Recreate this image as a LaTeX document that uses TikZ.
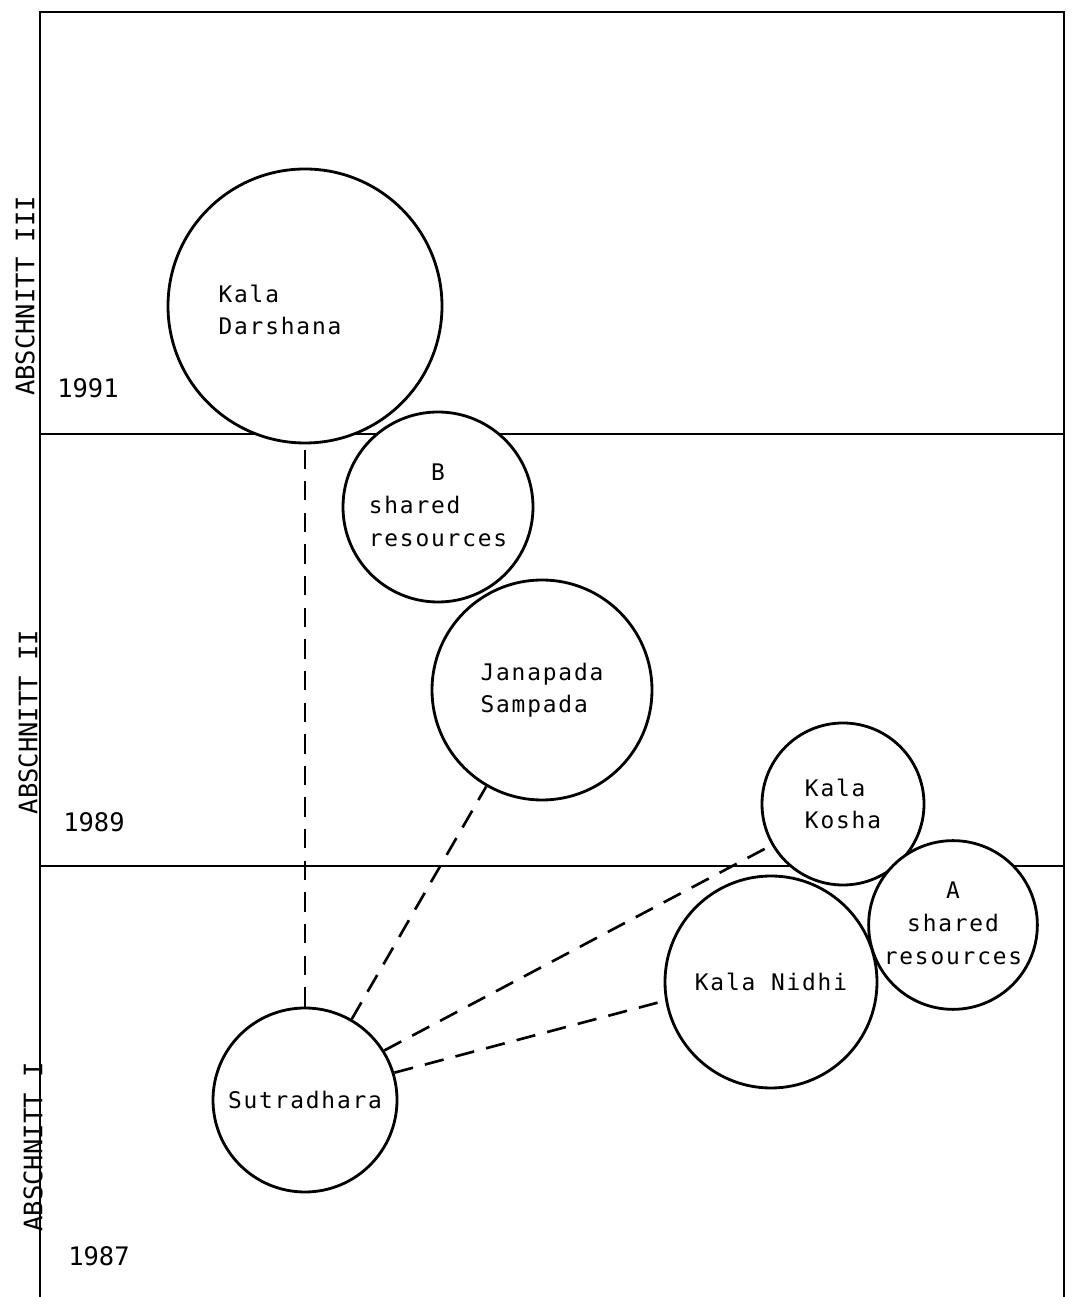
\documentclass[tikz,border=0pt]{standalone}
\usepackage{fontspec}
\newfontfamily\typefont[LetterSpace=8]{DejaVu Sans Mono}
\newfontfamily\sidefont{DejaVu Sans Mono}
\usetikzlibrary{calc}

\begin{document}
\begin{tikzpicture}[
    line width=1.4pt,
    ring/.style={draw, circle, fill=white, inner sep=0pt, line width=1.6pt,
        font=\typefont\fontsize{13}{18.5}\selectfont}, % Circles for the projects
    txt/.style={inner sep=0pt, font=\typefont\fontsize{13}{18.5}\selectfont},
    side/.style={rotate=90, inner sep=0pt, font=\sidefont\fontsize{14.5}{17}\selectfont},
    year/.style={inner sep=0pt, font=\sidefont\fontsize{14.5}{17}\selectfont},
    link/.style={dash pattern=on 11pt off 7pt, line width=1.5pt} % Dashed connectors
]
\useasboundingbox (0,0) rectangle (21.44,25.94);

% Frame and section borders
\draw (0.80,0) -- (0.80,25.70) -- (21.28,25.70) -- (21.28,0);
\draw (0.80,17.26) -- (21.28,17.26);
\draw (0.80,8.62) -- (21.28,8.62);

% Section labels
\node[side] (sec3) at (0.50,20.02) {ABSCHNITT III};
\node[side] (sec2) at (0.56,11.50) {ABSCHNITT II};
\node[side] (sec1) at (0.66,3.00) {ABSCHNITT I};
\node[year] (y91) at (1.76,18.18) {1991};
\node[year] (y89) at (1.88,9.50) {1989};
\node[year] (y87) at (1.98,0.82) {1987};

% Circles
\node[ring, minimum size=5.48cm] (darshana) at (6.10,19.82) {};
\node[txt, align=left] (darshanatext) at ($(darshana)+(-0.50,-0.08)$) {Kala\\Darshana};
\node[ring, minimum size=3.80cm] (sharedB) at (8.76,15.80) {%
    \begin{tabular}{@{}l@{}}\multicolumn{1}{@{}c@{}}{B}\\shared\\resources\end{tabular}};
\node[ring, minimum size=4.40cm, align=left] (janapada) at (10.84,12.14) {Janapada\\Sampada};
\node[ring, minimum size=3.24cm, align=left] (kosha) at (16.86,9.86) {Kala\\Kosha};
\node[ring, minimum size=3.20cm] (sharedA) at (19.06,7.44) {%
    \begin{tabular}{@{}c@{}}A\\shared\\resources\end{tabular}};
\node[ring, minimum size=4.24cm] (nidhi) at (15.42,6.30) {Kala Nidhi};
\node[ring, minimum size=3.68cm] (sutradhara) at (6.10,3.94) {Sutradhara};

% Dashed links from Sutradhara
\draw[link] (sutradhara) -- (darshana);
\draw[link] (sutradhara) -- (janapada);
\draw[link] (sutradhara.32) -- (kosha.210);
\draw[link] (sutradhara.17) -- (nidhi.190);

\end{tikzpicture}
\end{document}
